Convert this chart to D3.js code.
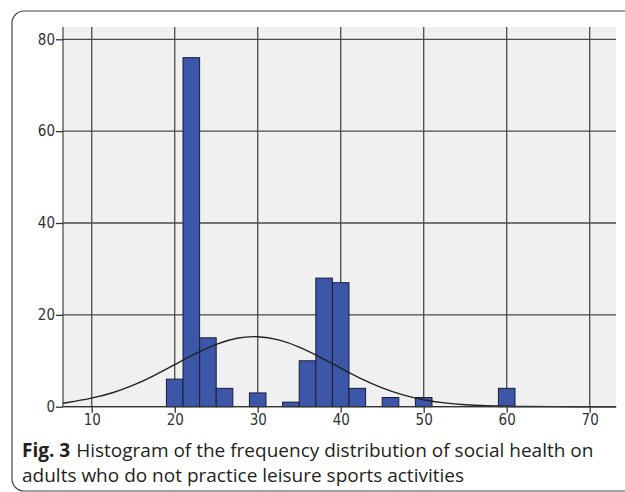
<!DOCTYPE html>
<html>
<head>
<title>Histogram | D3</title>
<script src="https://d3js.org/d3.v7.min.js" charset="utf-8"></script>
<style>
  body { margin: 0; background: white; }
  .tick text { font-family: "DejaVu Sans Condensed", "Liberation Sans Narrow", sans-serif; font-stretch: condensed; fill: #333; }
  .caption { font-family: "Open Sans", "Noto Sans", sans-serif; fill: #231f20; }
</style>
</head>
<body>
<script>
// bins of width 2, given by their centre
var binCenters = [20, 22, 24, 26, 30, 34, 36, 38, 40, 42, 46, 50, 60];
var binCounts  = [6, 76, 15, 4, 3, 1, 10, 28, 27, 4, 2, 2, 4];
var binWidth = 2;

// normal curve
var curveX = [6.5, 10, 12.5, 15, 17.5, 20, 22.5, 25, 27.5, 30, 32.5, 35, 37.5, 40, 42.5, 45, 47.5, 50, 52.5, 55, 57.5, 60, 62.5, 65, 70, 73.2];
var curveY = [0.75, 1.8, 2.95, 4.6, 6.75, 9.15, 11.6, 13.7, 15.1, 15.4, 14.7, 13.1, 10.85, 8.4, 6.0, 4.05, 2.5, 1.45, 0.8, 0.4, 0.19, 0.08, 0.03, 0.01, 0, 0];

var xTicks = [10, 20, 30, 40, 50, 60, 70];
var yTicks = [0, 20, 40, 60, 80];

var captionBold = "Fig. 3";
var captionLine1 = "Histogram of the frequency distribution of social health on";
var captionLine2 = "adults who do not practice leisure sports activities";

var width = 625, height = 492;
var plot = {left: 63, right: 616, top: 27, bottom: 407};

var svg = d3.select("body").append("svg")
  .attr("width", width)
  .attr("height", height);

// outer frame
svg.append("rect")
  .attr("x", 12).attr("y", 11)
  .attr("width", 640).attr("height", 480)
  .attr("rx", 12).attr("ry", 12)
  .attr("fill", "none")
  .attr("stroke", "#444")
  .attr("stroke-width", 1.2);

var x = d3.scaleLinear().domain([6.54, 73.17]).range([plot.left, plot.right]);
var y = d3.scaleLinear().domain([0, 80]).range([plot.bottom - 0.3, 39.3]);

svg.append("rect")
  .attr("x", plot.left).attr("y", plot.top)
  .attr("width", plot.right - plot.left).attr("height", plot.bottom - plot.top)
  .attr("fill", "#f0f0f0");

// grid
var grid = svg.append("g").attr("stroke", "#4a4a4a").attr("stroke-width", 1.3);
grid.selectAll(".vg").data(xTicks).enter().append("line")
  .attr("x1", function(d){ return x(d); }).attr("x2", function(d){ return x(d); })
  .attr("y1", plot.top).attr("y2", plot.bottom);
grid.selectAll(".hg").data(yTicks).enter().append("line")
  .attr("x1", plot.left).attr("x2", plot.right)
  .attr("y1", function(d){ return y(d); }).attr("y2", function(d){ return y(d); });

// bars
svg.append("g").selectAll("rect")
  .data(binCenters)
  .enter().append("rect")
  .attr("x", function(d){ return x(d - binWidth / 2); })
  .attr("width", function(d){ return x(d + binWidth / 2) - x(d - binWidth / 2); })
  .attr("y", function(d, i){ return y(binCounts[i]); })
  .attr("height", function(d, i){ return y(0) - y(binCounts[i]); })
  .attr("fill", "#3c56a8")
  .attr("stroke", "#1c1c3c")
  .attr("stroke-width", 1);

// normal curve
var line = d3.line()
  .x(function(d){ return x(d); })
  .y(function(d, i){ return y(curveY[i]); })
  .curve(d3.curveBasis);
svg.append("path")
  .datum(curveX)
  .attr("d", line)
  .attr("fill", "none")
  .attr("stroke", "#222")
  .attr("stroke-width", 1.4);

// axes
var xAxis = d3.axisBottom(x).tickValues(xTicks).tickSize(6).tickPadding(2).tickFormat(d3.format("d"));
var gx = svg.append("g").attr("transform", "translate(0," + y(0) + ")").call(xAxis);
gx.select(".domain").attr("d", "M" + plot.left + ",0H" + plot.right).attr("stroke", "#333").attr("stroke-width", 1.3);
gx.selectAll(".tick line").attr("stroke", "#333").attr("stroke-width", 1.3);
gx.selectAll(".tick text").attr("font-size", 15);

var yAxis = d3.axisLeft(y).tickValues(yTicks).tickSize(7).tickPadding(1).tickFormat(d3.format("d"));
var gy = svg.append("g").attr("transform", "translate(" + plot.left + ",0)").call(yAxis);
gy.select(".domain").attr("d", "M0," + plot.top + "V" + plot.bottom).attr("stroke", "#444").attr("stroke-width", 1.2);
gy.selectAll(".tick line").attr("stroke", "#333").attr("stroke-width", 1.3);
gy.selectAll(".tick text").attr("font-size", 15);

// caption
var cap = svg.append("text").attr("class", "caption").attr("x", 22).attr("y", 457).attr("font-size", 19);
cap.append("tspan").attr("font-weight", "bold").text(captionBold);
cap.append("tspan").attr("dx", 6).text(captionLine1);
svg.append("text").attr("class", "caption").attr("x", 22).attr("y", 481.5).attr("font-size", 19).text(captionLine2);
</script>
</body>
</html>
